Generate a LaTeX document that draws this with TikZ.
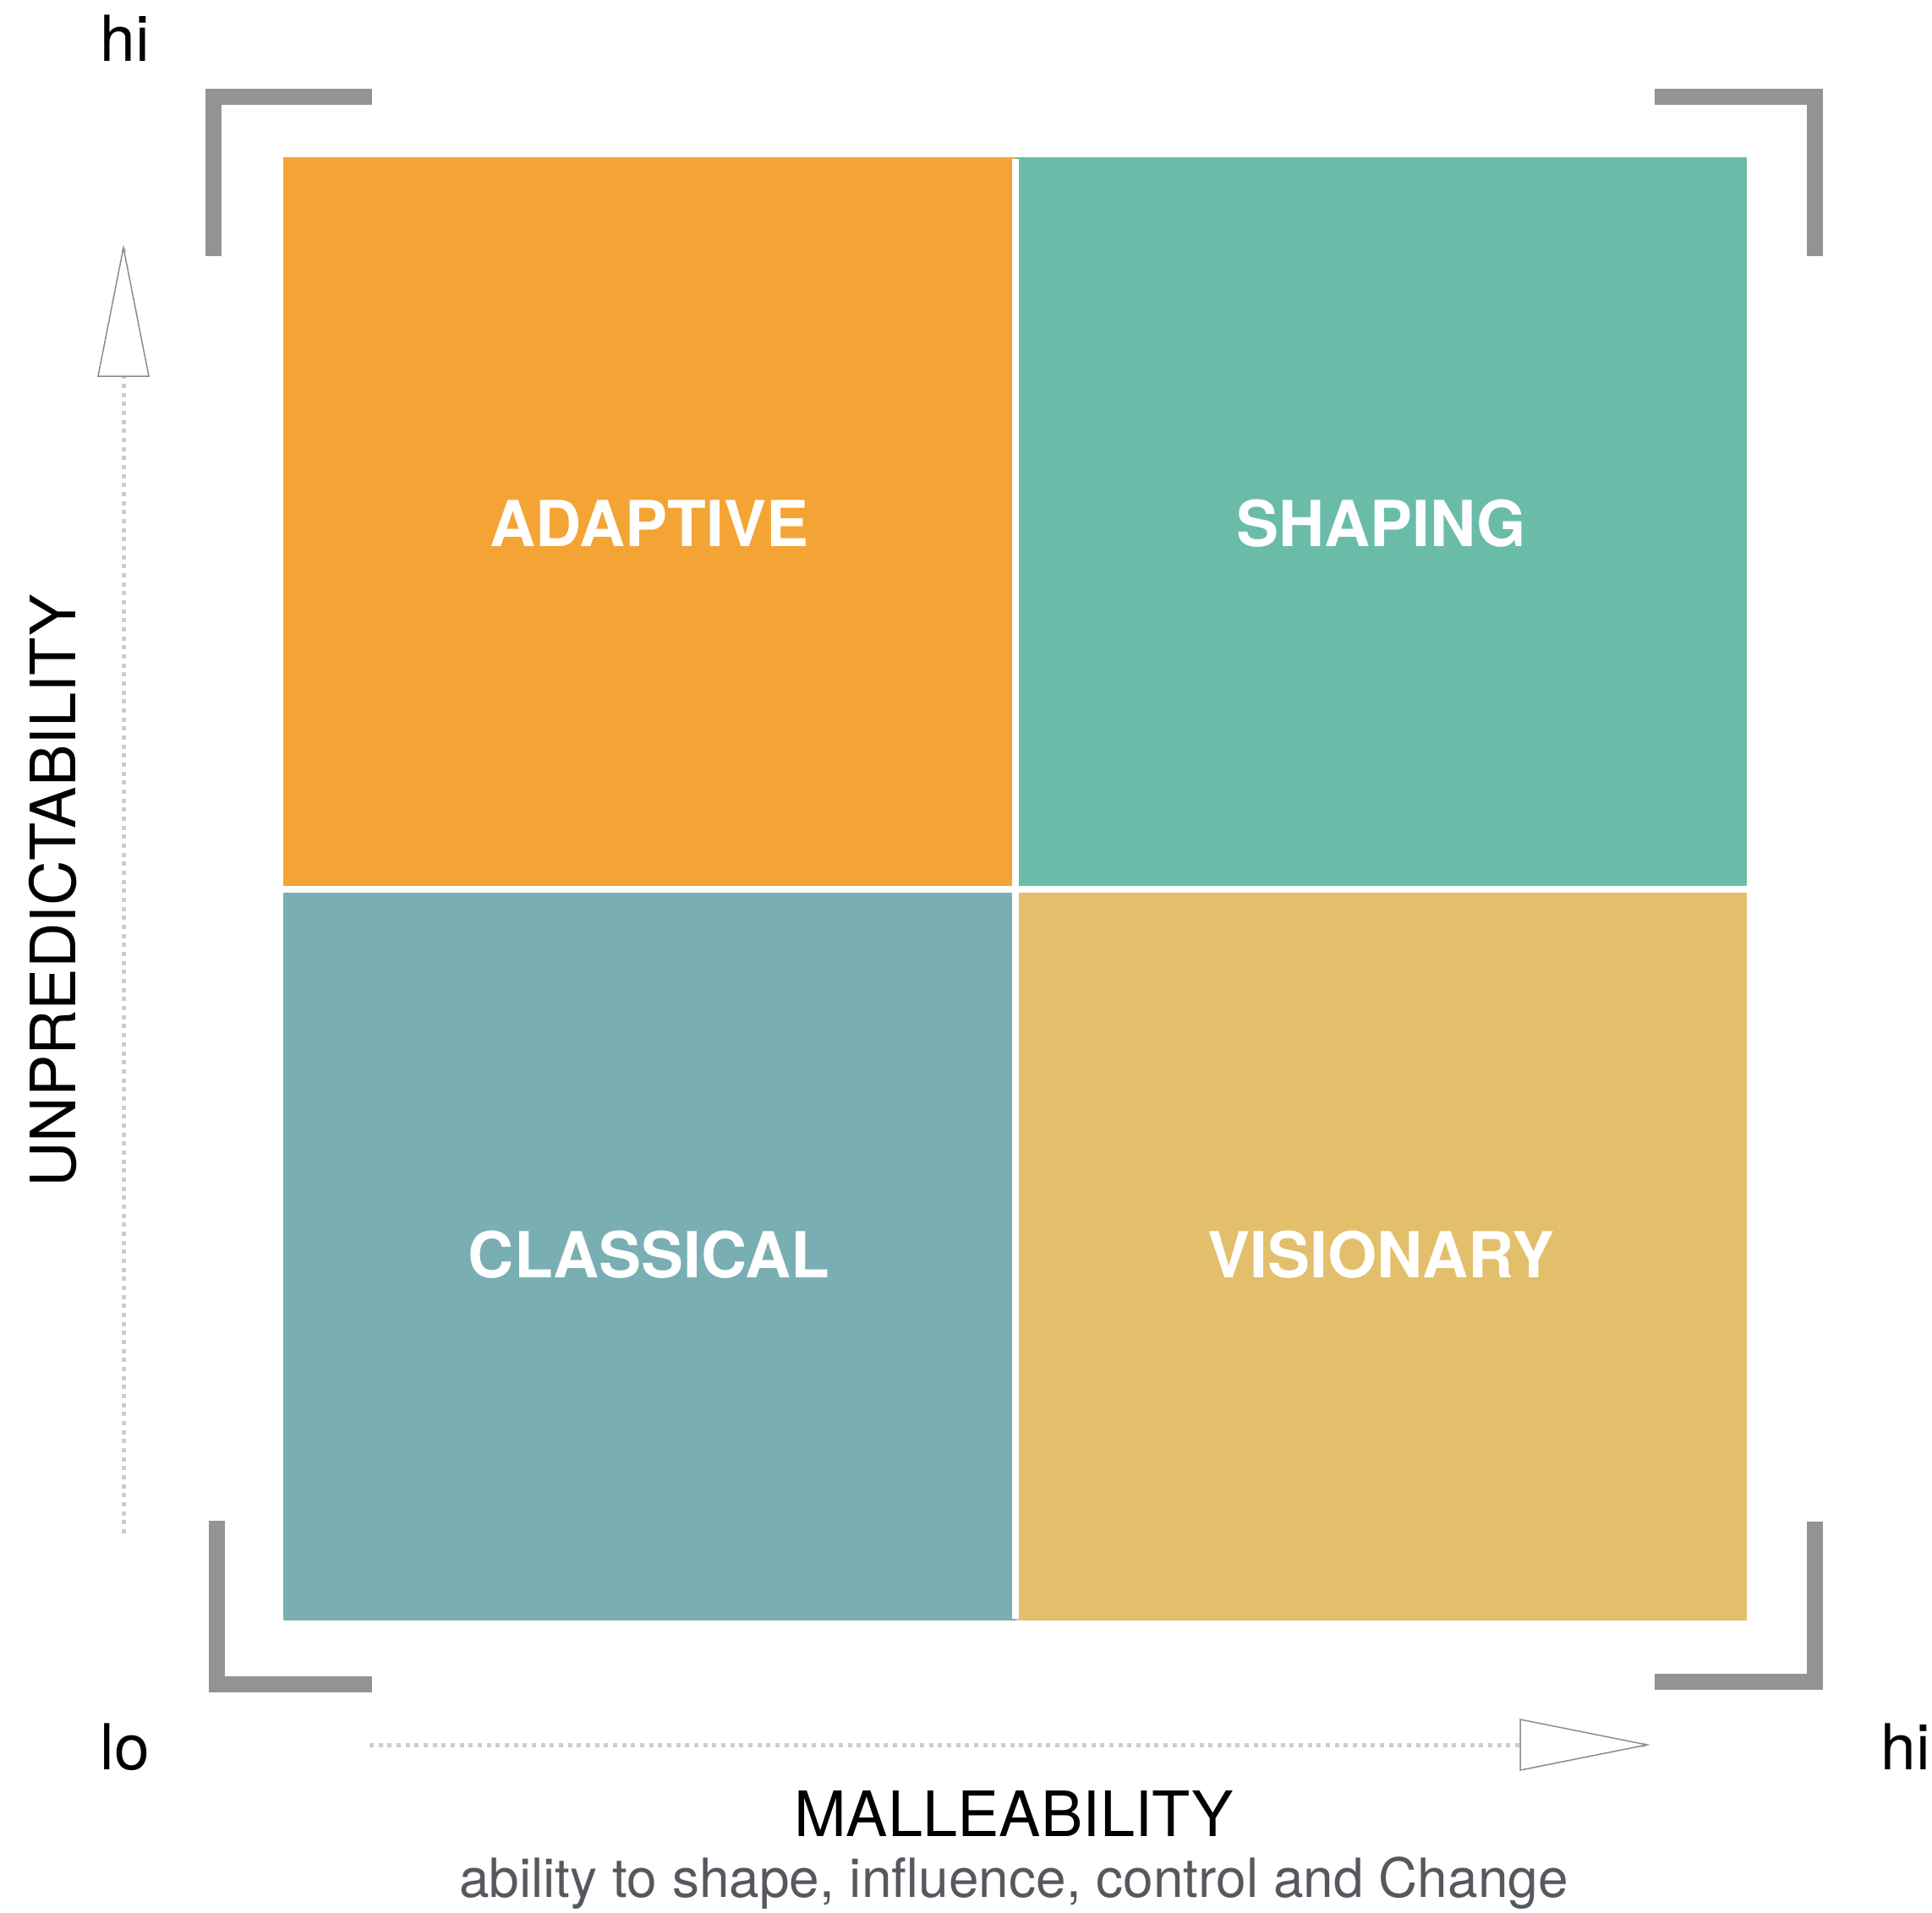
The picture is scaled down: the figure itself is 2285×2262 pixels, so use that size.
\documentclass[tikz,border=0pt]{standalone}
\usepackage{fontspec}
\setmainfont{TeX Gyre Heros}
\definecolor{adaptivecol}{RGB}{244,164,53}
\definecolor{shapingcol}{RGB}{106,188,169}
\definecolor{classicalcol}{RGB}{121,174,179}
\definecolor{visionarycol}{RGB}{227,191,107}
\definecolor{bracketgray}{RGB}{147,147,147}
\definecolor{dotgray}{RGB}{204,204,204}
\definecolor{tipgray}{RGB}{138,140,143}
\definecolor{subgray}{RGB}{85,89,95}

\begin{document}
\begin{tikzpicture}[x=1pt,y=1pt,yscale=-1,
  quad/.style={minimum width=865.5pt,minimum height=865.5pt,inner sep=0pt,outer sep=0pt,text=white,font=\bfseries\fontsize{75}{90}\selectfont},
  divider/.style={draw=white,line width=8pt},
  corner/.style={draw=bracketgray,line width=19pt,line cap=butt,line join=miter},
  dotaxis/.style={draw=dotgray,line width=5pt,dash pattern=on 5pt off 5.67pt},
  tri/.style={draw=tipgray,fill=white,line width=1.5pt},
  axislabel/.style={inner sep=0pt,font=\fontsize{74}{88}\selectfont},
  endlabel/.style={inner sep=0pt,font=\fontsize{75}{90}\selectfont},
  sublabel/.style={inner sep=0pt,text=subgray,font=\fontsize{64}{76}\selectfont}]
\useasboundingbox (0,0) rectangle (2285,2262);

%Shape: Rectangle
\node [quad,fill=adaptivecol] (adaptive) at (767.75,618.75) {ADAPTIVE};
%Shape: Rectangle
\node [quad,fill=shapingcol] (shaping) at (1633.25,618.75) {SHAPING};
%Shape: Rectangle
\node [quad,fill=classicalcol] (classical) at (767.75,1484.25) {CLASSICAL};
%Shape: Rectangle
\node [quad,fill=visionarycol] (visionary) at (1633.25,1484.25) {VISIONARY};
%Straight Lines
\draw [divider] ([yshift=2pt]adaptive.north east) -- ([yshift=-2pt]classical.south east) ;
%Straight Lines
\draw [divider] (adaptive.south west) -- (shaping.south east) ;

%Straight Lines
\draw [corner] (252,303) -- (252,114.5) -- (440,114.5) ;
%Straight Lines
\draw [corner] (1957,114.5) -- (2146.5,114.5) -- (2146.5,303) ;
%Straight Lines
\draw [corner] (256,1799) -- (256,1992) -- (440,1992) ;
%Straight Lines
\draw [corner] (1957,1989) -- (2146.5,1989) -- (2146.5,1800) ;

%Straight Lines
\coordinate (ytail) at (146,1814);
\coordinate (ytip) at (146,293);
\draw [dotaxis] (ytail) -- (ytip) ;
\draw [tri] (ytip) -- ++(30,152) -- ++(-60,0) -- cycle ;
%Straight Lines
\coordinate (xtail) at (437,2064);
\coordinate (xtip) at (1948,2064);
\draw [dotaxis] (xtail) -- ([xshift=3pt]xtip) ;
\draw [tri] (xtip) -- ++(-150,-30) -- ++(0,60) -- cycle ;

% Text Node
\draw (148,72) node [endlabel,anchor=base] (yhi) {hi};
% Text Node
\draw (148,2093) node [endlabel,anchor=base] (lo) {lo};
% Text Node
\draw (2254,2093) node [endlabel,anchor=base] (xhi) {hi};
% Text Node
\draw (89,1054) node [axislabel,rotate=90,anchor=base] (unpred) {UNPREDICTABILITY};
% Text Node
\draw (1199,2172) node [axislabel,anchor=base] (malle) {MALLEABILITY};
% Text Node
\draw (1199,2244) node [sublabel,anchor=base] (malledesc) {ability to shape, influence, control and Change};

\end{tikzpicture}
\end{document}
